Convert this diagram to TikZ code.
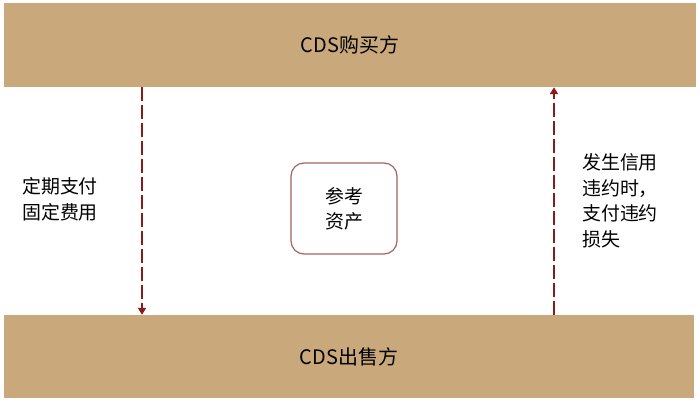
\documentclass[tikz,border=0pt]{standalone}
\usepackage{fontspec}
\setmainfont{Noto Sans CJK SC}
\usetikzlibrary{arrows.meta,positioning}
\definecolor{barbrown}{HTML}{C9A87B}
\definecolor{flowred}{HTML}{8B1A1A}
\definecolor{boxred}{HTML}{A8625F}
\tikzstyle{party}=[fill=barbrown,draw=none,minimum width=692bp,minimum height=84bp,inner sep=0pt,font=\fontsize{20}{24}\selectfont]
\tikzstyle{asset}=[draw=boxred,line width=1.2bp,rounded corners=13bp,minimum width=106bp,minimum height=91bp,align=center,font=\fontsize{19}{25}\selectfont]
\tikzstyle{note}=[align=left,anchor=north west,inner sep=0pt,font=\fontsize{19}{26}\selectfont]
\tikzstyle{flow}=[flowred,line width=1.8bp,dash pattern=on 14bp off 4bp,-{Triangle[width=8bp,length=7bp]}]

\begin{document}
\begin{tikzpicture}[x=1bp,y=-1bp]
    \useasboundingbox[fill=white] (0,0) rectangle (700,409);
    \node (buyer)[party] at (350,45) {CDS购买方};
    \node (seller)[party,minimum width=690bp,minimum height=83bp] at (349,356.5) {CDS出售方};
    \node (ref)[asset] at (344,208.5) {参考\\资产};
    \node (fee)[note] at (22,177) {定期支付\\固定费用};
    \node (loss)[note] at (582,153) {发生信用\\违约时，\\支付违约\\损失};
    \coordinate (lx) at (142,0);
    \coordinate (rx) at (554,0);
    \draw[flow] (buyer.south -| lx) -- (seller.north -| lx);
    \draw[flow] (seller.north -| rx) -- (buyer.south -| rx);
\end{tikzpicture}
\end{document}
